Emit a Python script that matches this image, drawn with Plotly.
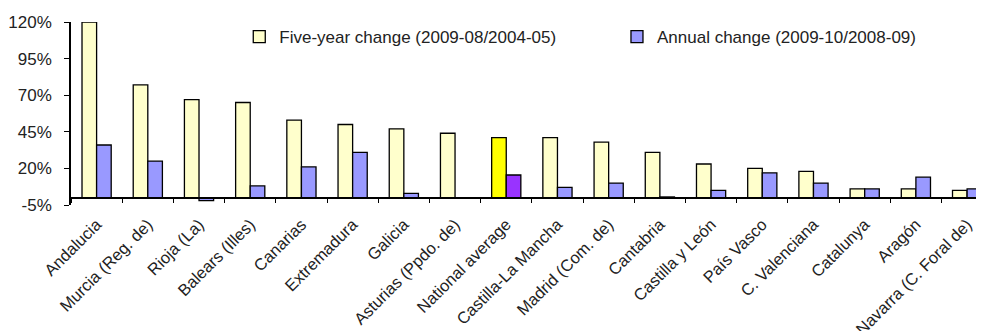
import plotly.graph_objects as go

categories = ["Andalucia", "Murcia (Reg. de)", "Rioja (La)", "Balears (Illes)", "Canarias",
              "Extremadura", "Galicia", "Asturias (Ppdo. de)", "National average",
              "Castilla-La Mancha", "Madrid (Com. de)", "Cantabria", "Castilla y León",
              "País Vasco", "C. Valenciana", "Catalunya", "Aragón", "Navarra (C. Foral de)"]
five_year = [120, 77, 67, 65, 53, 50, 47, 44, 41, 41, 38, 31, 23, 20, 18, 6, 6, 5]
annual = [36, 25, -2, 8, 21, 31, 3, 0, 15.5, 7, 10, 0.5, 5, 17, 10, 6, 14, 6]
y_ticks = [-5, 20, 45, 70, 95, 120]
y_tick_text = [f"{v}%" for v in y_ticks]
highlight = "National average"

c5 = ["#FFFF00" if c == highlight else "#FFFFCC" for c in categories]
ca = ["#9933FF" if c == highlight else "#9999FF" for c in categories]

FONT = "Liberation Sans, Arial, sans-serif"

fig = go.Figure()
fig.add_trace(go.Bar(x=categories, y=five_year, name="Five-year change (2009-08/2004-05)",
                     marker=dict(color=c5, line=dict(color="black", width=1.3)),
                     legend="legend", showlegend=True))
fig.add_trace(go.Bar(x=categories, y=annual, name="Annual change (2009-10/2008-09)",
                     marker=dict(color=ca, line=dict(color="black", width=1.3)),
                     legend="legend2", showlegend=True))

leg_common = dict(orientation="h", yanchor="middle", y=0.918, xanchor="left",
                  bgcolor="rgba(0,0,0,0)", font=dict(family=FONT, size=17, color="#222"))

fig.update_layout(
    width=976, height=323,
    margin=dict(l=63, r=0, t=14, b=126, autoexpand=False),
    paper_bgcolor="white", plot_bgcolor="white",
    showlegend=True,
    barmode="group", bargap=0.43, bargroupgap=0,
    font=dict(family=FONT, size=16, color="#222"),
    legend=dict(x=0.1843, visible=True, **leg_common),
    legend2=dict(x=0.598, visible=True, **leg_common),
    xaxis=dict(type="category", range=[-0.5, 17.33], anchor="free", position=0.04,
               automargin=False,
               showline=True, linecolor="black", linewidth=1.5,
               ticks="outside", tickson="boundaries", ticklen=5, tickcolor="black",
               tickangle=-45, showgrid=False, zeroline=False, ticklabelstandoff=10,
               tickfont=dict(family=FONT, size=16.5, color="#222")),
    yaxis=dict(range=[-5, 120], tickvals=y_ticks, ticktext=y_tick_text,
               automargin=False,
               showline=True, linecolor="black", linewidth=1.5,
               ticks="outside", ticklen=5, tickcolor="black", ticklabelstandoff=9,
               showgrid=False, zeroline=False,
               tickfont=dict(family=FONT, size=17, color="#222")),
)

fig.write_html("out.html")
